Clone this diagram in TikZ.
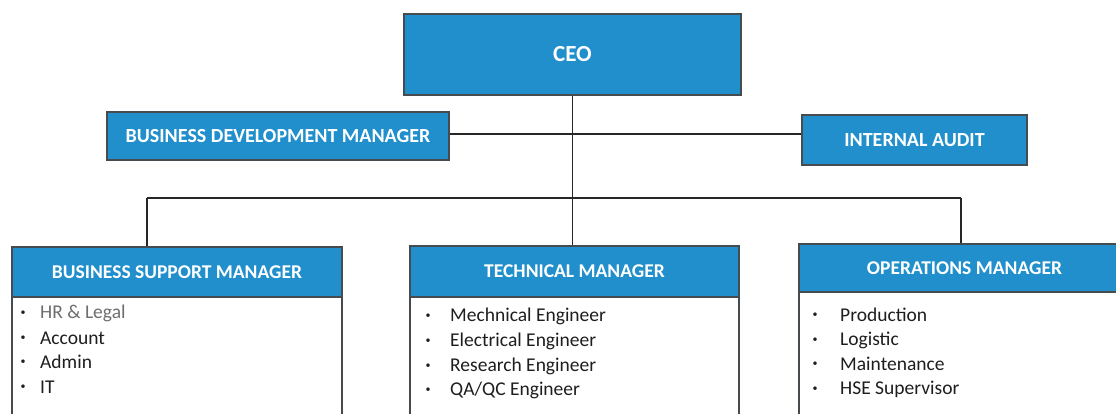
\documentclass[tikz,border=0pt]{standalone}
\usepackage{fontspec}
\setmainfont{Carlito}
\definecolor{boxblue}{RGB}{32,143,204}
\definecolor{edge}{RGB}{70,75,80}
\definecolor{txt}{RGB}{30,30,30}
\definecolor{greytxt}{RGB}{110,110,110}
\begin{document}
\begin{tikzpicture}[x=1pt,y=-1pt,
  bluebox/.style={draw=edge,line width=1.2pt,fill=boxblue,text=white,font=\bfseries,inner sep=0pt},
  listbox/.style={draw=edge,line width=1.2pt,fill=white,inner sep=0pt},
  conn/.style={draw=black!85,line width=1.2pt},
  item/.style={anchor=west,text=txt,font=\fontsize{19.5}{21}\selectfont,inner sep=0pt},
  bul/.style={anchor=center,text=txt,font=\fontsize{10}{11}\selectfont,inner sep=0pt}]
\useasboundingbox (0,0) rectangle (1116,414);
\clip (0,0) rectangle (1116,414);
\fill[white] (0,0) rectangle (1116,414);
% top boxes
\node[bluebox,minimum width=337pt,minimum height=81pt,font=\bfseries\fontsize{23}{25}\selectfont] (ceo) at (572.5,54.5) {CEO};
\node[bluebox,minimum width=342pt,minimum height=48pt,font=\bfseries\fontsize{20}{22}\selectfont] (bdm) at (278,136) {BUSINESS DEVELOPMENT MANAGER};
\node[bluebox,minimum width=225pt,minimum height=50pt,font=\bfseries\fontsize{20}{22}\selectfont] (ia) at (914.5,140) {INTERNAL AUDIT};
% lower boxes
\draw[listbox] (12,297) rectangle (342,430);
\draw[listbox] (410,297) rectangle (739,430);
\draw[listbox] (799,292) rectangle (1130,430);
\node[bluebox,minimum width=330pt,minimum height=50pt,font=\bfseries\fontsize{19.5}{21}\selectfont] (bsm) at (177,272) {BUSINESS SUPPORT MANAGER};
\node[bluebox,minimum width=329pt,minimum height=51pt,font=\bfseries\fontsize{19.5}{21}\selectfont] (tm) at (574.5,271.5) {TECHNICAL MANAGER};
\node[bluebox,minimum width=331pt,minimum height=48pt,font=\bfseries\fontsize{19.5}{21}\selectfont] (om) at (964.5,268) {OPERATIONS MANAGER};
% connectors
\coordinate (j) at (572.5,198);
\coordinate (jl) at (147,198);
\coordinate (jr) at (961,198);
\coordinate (bdmj) at (572.5,134);
\draw[conn] (ceo.south) -- (j) -- (j |- tm.north);
\draw[conn] (bdm.east |- bdmj) -- (ia.west |- bdmj);
\draw[conn] (jl) -- (jr);
\draw[conn] (jl) -- (jl |- bsm.north);
\draw[conn] (jr) -- (jr |- om.north);
% lists
\foreach \y/\t [count=\i] in {313/{\textcolor{greytxt}{HR \& Legal}},338/{Account},362/{Admin},387/{IT}}{
  \node[bul] (bb\i) at (23,\y) {•};
  \node[item] (bt\i) at (40,\y) {\t};
}
\foreach \y/\t [count=\i] in {316/{Mechnical Engineer},341/{Electrical Engineer},366/{Research Engineer},390/{QA/QC Engineer}}{
  \node[bul] (tb\i) at (428,\y) {•};
  \node[item] (tt\i) at (450,\y) {\t};
}
\foreach \y/\t [count=\i] in {315/{Production},340/{Logistic},364/{Maintenance},389/{HSE Supervisor}}{
  \node[bul] (ob\i) at (815,\y) {•};
  \node[item] (ot\i) at (840,\y) {\t};
}
\end{tikzpicture}
\end{document}
